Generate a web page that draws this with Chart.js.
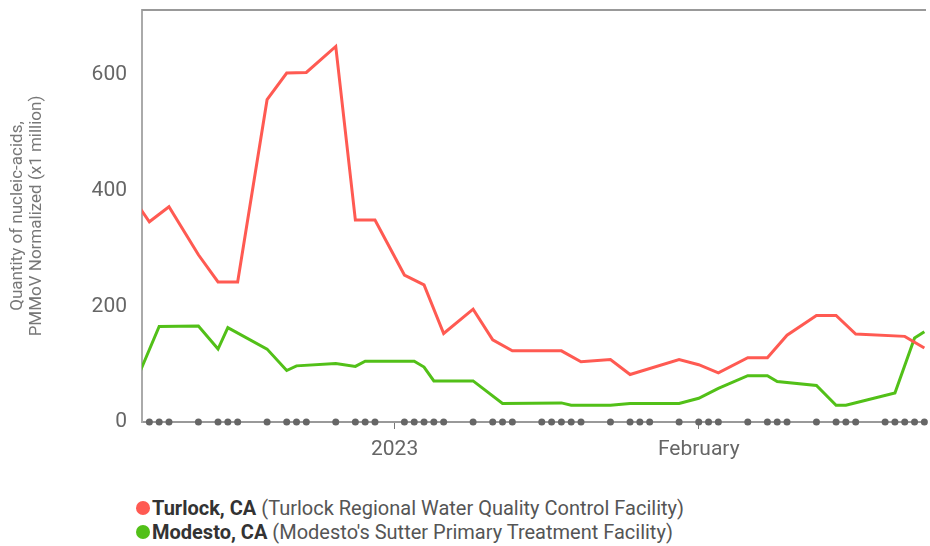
<!DOCTYPE html>
<html>
<head>
<meta charset="utf-8">
<script src="https://cdn.jsdelivr.net/npm/chart.js@4/dist/chart.umd.min.js"></script>
<style>
  html, body { margin:0; padding:0; background:#fff; overflow:hidden; }
  #wrap { position:relative; width:930px; height:546px; }
  #chartBox { position:absolute; left:0; top:0; width:930px; height:470px; }
  .legend { position:absolute; left:136px; top:496px; font-family:Roboto, sans-serif; font-size:20px; color:#555; }
  .legend div { height:24px; line-height:24px; display:flex; align-items:center; white-space:nowrap; }
  .legend i { display:inline-block; width:14px; height:14px; border-radius:50%; margin-right:2px; }
  .legend b { color:#333; margin-right:5px; }
</style>
</head>
<body>
<div id="wrap">
  <div id="chartBox"><canvas id="wwChart"></canvas></div>
  <div class="legend">
    <div><i style="background:#ff5a52"></i><b>Turlock, CA</b>(Turlock Regional Water Quality Control Facility)</div>
    <div><i style="background:#52c018"></i><b>Modesto, CA</b>(Modesto's Sutter Primary Treatment Facility)</div>
  </div>
</div>
<script>
// ---- data ----
const turlockDates = ['2022-12-05','2022-12-07','2022-12-09','2022-12-12','2022-12-14','2022-12-16','2022-12-19','2022-12-21','2022-12-23','2022-12-26','2022-12-28','2022-12-30',
  '2023-01-02','2023-01-04','2023-01-06','2023-01-09','2023-01-11','2023-01-13','2023-01-18','2023-01-20','2023-01-23','2023-01-25','2023-01-30',
  '2023-02-01','2023-02-03','2023-02-06','2023-02-08','2023-02-10','2023-02-13','2023-02-15','2023-02-17','2023-02-22','2023-02-24'];
const turlockVals  = [395,346,372,289,242,242,557,603,604,649,349,349,
  254,237,153,195,142,123,123,104,108,82,108,
  99,85,111,111,150,184,184,152,148,128];

const modestoDates = ['2022-12-05','2022-12-08','2022-12-12','2022-12-14','2022-12-15','2022-12-19','2022-12-21','2022-12-22','2022-12-26','2022-12-28','2022-12-29',
  '2023-01-03','2023-01-04','2023-01-05','2023-01-09','2023-01-12','2023-01-18','2023-01-19','2023-01-23','2023-01-25','2023-01-30',
  '2023-02-01','2023-02-03','2023-02-06','2023-02-08','2023-02-09','2023-02-13','2023-02-15','2023-02-16','2023-02-21','2023-02-23','2023-02-24'];
const modestoVals  = [45,165,166,126,163,126,89,97,101,96,105,
  105,95,71,71,32,33,29,29,32,32,
  41,58,80,80,70,63,29,29,50,145,156];

// gray markers along the axis: sampling days
const sampleDates = ['2022-12-07','2022-12-08','2022-12-09','2022-12-12','2022-12-14','2022-12-15','2022-12-16','2022-12-19','2022-12-21','2022-12-22','2022-12-23',
  '2022-12-26','2022-12-28','2022-12-29','2022-12-30','2023-01-02','2023-01-03','2023-01-04','2023-01-05','2023-01-06','2023-01-09','2023-01-11','2023-01-12','2023-01-13',
  '2023-01-16','2023-01-17','2023-01-18','2023-01-19','2023-01-20','2023-01-23','2023-01-25','2023-01-26','2023-01-27','2023-01-30',
  '2023-02-01','2023-02-02','2023-02-03','2023-02-06','2023-02-08','2023-02-09','2023-02-10','2023-02-13','2023-02-15','2023-02-16','2023-02-17',
  '2023-02-20','2023-02-21','2023-02-22','2023-02-23','2023-02-24'];

const xTicks = [{ date:'2023-01-01', label:'2023' }, { date:'2023-02-01', label:'February' }];
const yTicks = [0,200,400,600];
const xRange = ['2022-12-06T06:00','2023-02-24T04:00'];
const yMax = 712;

// days relative to 1 Jan 2023 (linear axis, no date adapter here)
const BASE = Date.UTC(2023,0,1);
function day(s) {
  const [d,t] = s.split('T');
  const [y,m,dd] = d.split('-').map(Number);
  const [hh,mm] = (t||'00:00').split(':').map(Number);
  return (Date.UTC(y,m-1,dd,hh,mm) - BASE) / 864e5;
}
const pts = (ds,vs) => ds.map((d,i)=>({ x:day(d), y:vs[i] }));

const TICK_FONT = { family:'Roboto', size:21 };
const frame = {
  id:'frame',
  afterDraw(c) {
    const a = c.chartArea, g = c.ctx;
    g.save();
    g.strokeStyle = '#999'; g.lineWidth = 2;
    g.beginPath(); g.moveTo(a.left, a.top); g.lineTo(a.right, a.top); g.stroke();
    g.restore();
  }
};

const ctx = document.getElementById('wwChart').getContext('2d');
new Chart(ctx, {
  type:'line',
  data:{ datasets:[
    { label:'Turlock', data:pts(turlockDates,turlockVals), borderColor:'#ff5a52', borderWidth:3, pointRadius:0, tension:0 },
    { label:'Modesto', data:pts(modestoDates,modestoVals), borderColor:'#52c018', borderWidth:3, pointRadius:0, tension:0 },
    { label:'samples', data:sampleDates.map(d=>({ x:day(d), y:0 })), showLine:false, pointRadius:3.5, pointBackgroundColor:'#666', pointBorderWidth:0, clip:false },
  ]},
  options:{
    responsive:true, maintainAspectRatio:false, animation:false,
    layout:{ padding:{ top:10, right:0, left:0, bottom:0 } },
    plugins:{ legend:{display:false}, tooltip:{enabled:false} },
    scales:{
      x:{
        type:'linear', min:day(xRange[0]), max:day(xRange[1]),
        afterBuildTicks:s=>{ s.ticks = xTicks.map(t=>({ value:day(t.date) })); },
        afterFit:s=>{ s.height = 48; s.paddingLeft = 0; s.paddingRight = 0; },
        ticks:{ color:'#666', font:TICK_FONT, padding:8, maxRotation:0, autoSkip:false,
          callback:v=>{ const t = xTicks.find(k=>Math.abs(day(k.date)-v)<0.01); return t ? t.label : ''; } },
        grid:{ display:true, drawOnChartArea:false, drawTicks:true, tickLength:7, color:'#777' },
        border:{ color:'#999', width:2 },
      },
      y:{
        min:0, max:yMax,
        afterBuildTicks:s=>{ s.ticks = yTicks.map(v=>({ value:v })); },
        afterFit:s=>{ s.width = 142; s.paddingTop = 0; s.paddingBottom = 0; },
        ticks:{ color:'#666', font:TICK_FONT, padding:15 },
        grid:{ display:false, drawTicks:false },
        border:{ color:'#aaa', width:2 },
        title:{ display:true, text:['Quantity of nucleic-acids,','PMMoV Normalized (x1 million)'], color:'#777',
          font:{ family:'Roboto', size:17, lineHeight:1.12 }, padding:{ top:8, bottom:0 } },
      },
    },
  },
  plugins:[frame],
});
</script>
</body>
</html>
